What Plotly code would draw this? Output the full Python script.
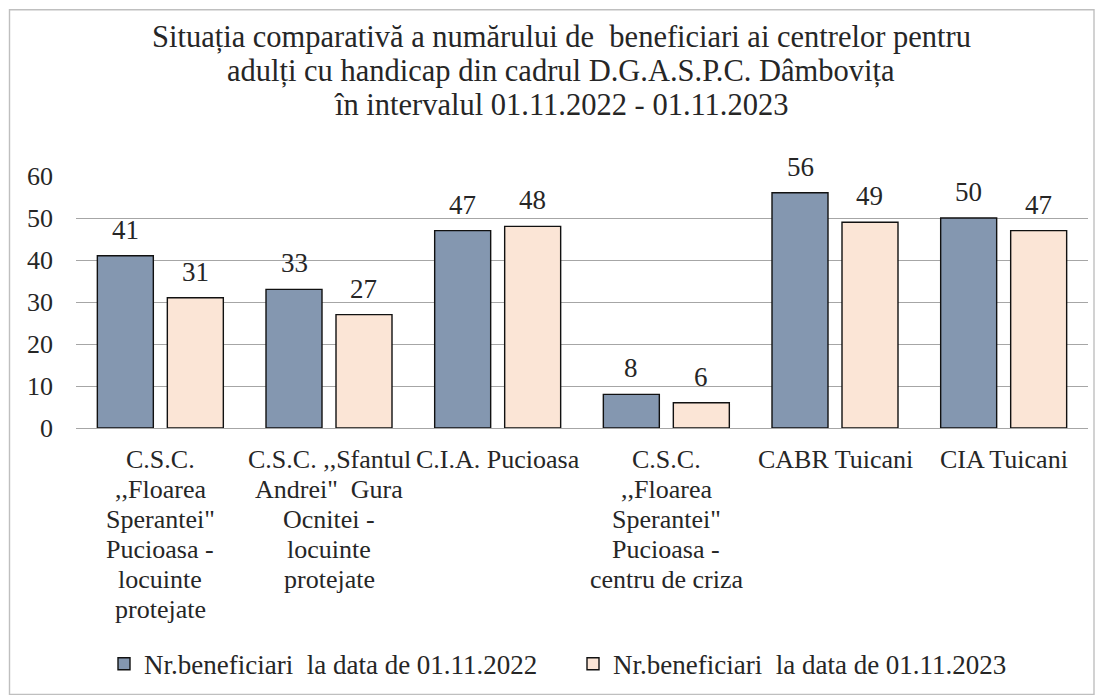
import plotly.graph_objects as go

category_labels = [
    'C.S.C.<br>,,Floarea<br>Sperantei"<br>Pucioasa -<br>locuinte<br>protejate',
    'C.S.C. ,,Sfantul<br>Andrei"  Gura<br>Ocnitei -<br>locuinte<br>protejate',
    'C.I.A. Pucioasa',
    'C.S.C.<br>,,Floarea<br>Sperantei"<br>Pucioasa -<br>centru de criza',
    'CABR Tuicani',
    'CIA Tuicani',
]
series_2022 = [41, 33, 47, 8, 56, 50]
series_2023 = [31, 27, 48, 6, 49, 47]
name_2022 = "Nr.beneficiari  la data de 01.11.2022"
name_2023 = "Nr.beneficiari  la data de 01.11.2023"
title_lines = [
    "Situația comparativă a numărului de  beneficiari ai centrelor pentru",
    "adulți cu handicap din cadrul D.G.A.S.P.C. Dâmbovița",
    "în intervalul 01.11.2022 - 01.11.2023",
]
y_ticks = [0, 10, 20, 30, 40, 50, 60]

FONT = "Liberation Serif, Times New Roman, serif"
TXT = "#262626"
W, H = 1103, 700
L, T = 76, 176
R = W - 1088
B = H - 430
pw, ph = W - L - R, H - T - B
BARGAP, BARGROUPGAP = 0.17, 0.2


def py(page_y):
    """page pixel y -> paper fraction"""
    return (H - B - page_y) / ph


def px(page_x):
    return (page_x - L) / pw


fig = go.Figure()
fig.add_trace(go.Bar(
    x=category_labels, y=series_2022, name=name_2022,
    marker=dict(color="#8497B0", line=dict(color="#111111", width=1.4)),
))
fig.add_trace(go.Bar(
    x=category_labels, y=series_2023, name=name_2023,
    marker=dict(color="#FBE5D6", line=dict(color="#111111", width=1.4)),
))

# data labels above each bar, offset to the bar's slot within the group
cat_w = pw / len(category_labels)
slot = cat_w * (1 - BARGAP) / 2
for sign, series in ((-1, series_2022), (1, series_2023)):
    for cat, val in zip(category_labels, series):
        fig.add_annotation(
            x=cat, y=val, xref="x", yref="y", text=str(val), showarrow=False,
            xanchor="center", yanchor="middle", xshift=sign * slot / 2, yshift=26,
            font=dict(family=FONT, size=27, color=TXT),
        )

# category labels, one annotation per line (tight line spacing like the original)
for cat in category_labels:
    for i, line in enumerate(cat.split("<br>")):
        fig.add_annotation(
            x=cat, xref="x", y=0, yref="paper", text=line, showarrow=False,
            xanchor="center", yanchor="middle", yshift=-(31 + 30 * i),
            font=dict(family=FONT, size=26, color=TXT),
        )

# title lines
for i, line in enumerate(title_lines):
    fig.add_annotation(
        x=px(561), xref="paper", y=py(36 + 34 * i), yref="paper",
        text=line, showarrow=False, xanchor="center", yanchor="middle",
        font=dict(family=FONT, size=30.5, color=TXT),
    )

fig.update_layout(
    width=W, height=H,
    margin=dict(l=L, r=R, t=T, b=B),
    paper_bgcolor="white", plot_bgcolor="white",
    barmode="group", bargap=BARGAP, bargroupgap=BARGROUPGAP,
    font=dict(family=FONT, color=TXT),
    xaxis=dict(
        showline=True, linecolor="#a6a6a6", linewidth=1.4,
        ticks="", showticklabels=False, automargin=False,
    ),
    yaxis=dict(
        range=[0, 60], tickvals=y_ticks,
        showgrid=True, gridcolor="#a6a6a6", gridwidth=1.4,
        zeroline=False, showline=False,
        tickfont=dict(family=FONT, size=26, color=TXT),
        ticks="", ticklabelstandoff=22, automargin=False,
    ),
    legend=dict(
        orientation="h", x=px(104), xanchor="left",
        y=py(668), yanchor="middle",
        font=dict(family=FONT, size=27, color=TXT),
        itemwidth=30, entrywidth=424, entrywidthmode="pixels",
    ),
    showlegend=True,
)

fig.add_shape(
    type="rect", xref="paper", yref="paper",
    x0=px(9.5), x1=px(1094), y0=py(698.5), y1=py(8.5),
    line=dict(color="#bfbfbf", width=1.4), fillcolor="rgba(0,0,0,0)", layer="below",
)

fig.write_html(
    "out.html",
    config={"displayModeBar": False},
    post_script="document.body.style.margin='0';document.body.style.overflow='hidden';",
)
